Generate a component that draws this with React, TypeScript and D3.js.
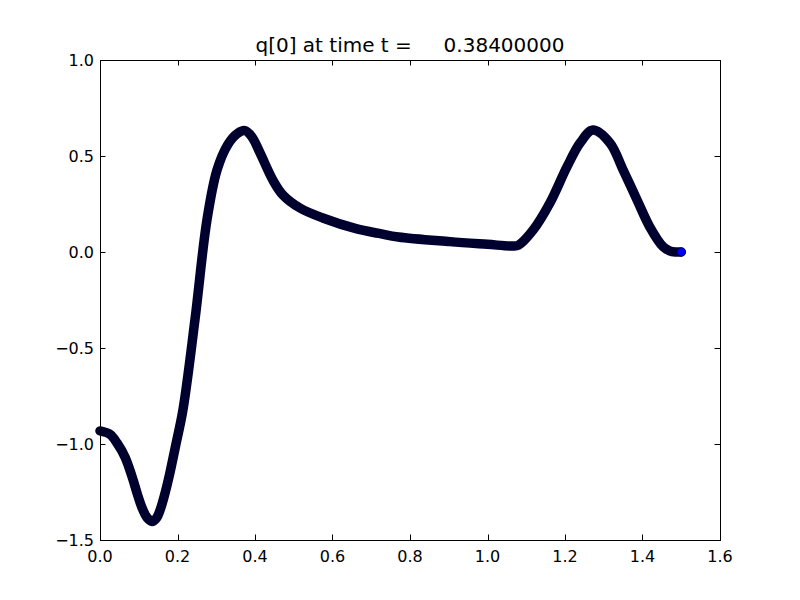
import React, { useEffect, useRef } from "react";
import * as d3 from "d3";

// values
const tValues = [
  0.0, 0.026, 0.044, 0.065, 0.083, 0.097, 0.108, 0.122, 0.134, 0.146, 0.155,
  0.166, 0.178, 0.195, 0.214, 0.245, 0.276, 0.302, 0.33, 0.355, 0.374, 0.392,
  0.413, 0.446, 0.472, 0.516, 0.575, 0.663, 0.72, 0.77, 0.903, 1.0, 1.066,
  1.08, 1.118, 1.161, 1.205, 1.239, 1.272, 1.316, 1.35, 1.386, 1.419, 1.453,
  1.47, 1.485, 1.5,
];
const qValues = [
  -0.932, -0.95, -0.995, -1.07, -1.172, -1.265, -1.33, -1.385, -1.403, -1.385,
  -1.344, -1.27, -1.172, -1.01, -0.823, -0.354, 0.167, 0.427, 0.56, 0.618,
  0.632, 0.6, 0.516, 0.375, 0.297, 0.229, 0.177, 0.12, 0.097, 0.078, 0.054,
  0.04, 0.031, 0.036, 0.115, 0.255, 0.443, 0.568, 0.635, 0.568, 0.427, 0.271,
  0.13, 0.028, 0.006, 0.0, 0.0,
];
const xTicks = [0, 0.2, 0.4, 0.6, 0.8, 1.0, 1.2, 1.4, 1.6];
const yTicks = [-1.5, -1.0, -0.5, 0.0, 0.5, 1.0];
const titleText = "q[0] at time t =     0.38400000";

const App = () => {
  const ref = useRef<SVGSVGElement>(null);

  useEffect(() => {
    const margin = { top: 60, right: 80, bottom: 60, left: 100 },
      width = 800 - margin.left - margin.right,
      height = 600 - margin.top - margin.bottom;

    const root = d3.select(ref.current);
    root.selectAll("*").remove();

    const svg = root
      .append("g")
      .attr("transform", `translate(${margin.left},${margin.top})`);

    const x = d3.scaleLinear().domain([0, 1.6]).range([0, width]);
    const y = d3.scaleLinear().domain([-1.5, 1.0]).range([height, 0]);

    const fmt = (v: number) => d3.format(".1f")(v).replace("-", "\u2212");
    const tickLen = 5.5;
    const font = "DejaVu Sans";

    // ticks inside, on all four sides
    const tickG = svg.append("g").attr("stroke", "#000").attr("stroke-width", 1);
    xTicks.forEach((t) => {
      const px = Math.round(x(t)) + 0.5;
      tickG.append("line").attr("x1", px).attr("x2", px).attr("y1", height).attr("y2", height - tickLen);
      tickG.append("line").attr("x1", px).attr("x2", px).attr("y1", 0).attr("y2", tickLen);
    });
    yTicks.forEach((t) => {
      const py = Math.round(y(t)) + 0.5;
      tickG.append("line").attr("x1", 0).attr("x2", tickLen).attr("y1", py).attr("y2", py);
      tickG.append("line").attr("x1", width).attr("x2", width - tickLen).attr("y1", py).attr("y2", py);
    });

    // tick labels
    svg
      .append("g")
      .selectAll("text")
      .data(xTicks)
      .join("text")
      .attr("x", (d) => x(d))
      .attr("y", height + 22)
      .attr("text-anchor", "middle")
      .attr("font-family", font)
      .attr("font-size", 16)
      .text((d) => fmt(d));

    svg
      .append("g")
      .selectAll("text")
      .data(yTicks)
      .join("text")
      .attr("x", -6)
      .attr("y", (d) => y(d))
      .attr("dy", "0.36em")
      .attr("text-anchor", "end")
      .attr("font-family", font)
      .attr("font-size", 16)
      .text((d) => fmt(d));

    // the curve: dense markers look like a thick dark line
    const pts = tValues.map((t, i) => [t, qValues[i]] as [number, number]);
    const line = d3
      .line<[number, number]>()
      .x((d) => x(d[0]))
      .y((d) => y(d[1]))
      .curve(d3.curveCatmullRom.alpha(0.5));

    svg
      .append("path")
      .datum(pts)
      .attr("d", line)
      .attr("fill", "none")
      .attr("stroke", "#00002e")
      .attr("stroke-width", 9.5)
      .attr("stroke-linecap", "round")
      .attr("stroke-linejoin", "round");

    const last = pts[pts.length - 1];
    svg
      .append("circle")
      .attr("cx", x(last[0]))
      .attr("cy", y(last[1]))
      .attr("r", 4.2)
      .attr("fill", "#0000ff")
      .attr("stroke", "#000")
      .attr("stroke-width", 0.6);

    // frame
    svg
      .append("rect")
      .attr("x", 0.5)
      .attr("y", 0.5)
      .attr("width", width)
      .attr("height", height)
      .attr("fill", "none")
      .attr("stroke", "#000")
      .attr("stroke-width", 1);

    // title
    svg
      .append("text")
      .attr("x", width / 2)
      .attr("y", -8)
      .attr("text-anchor", "middle")
      .attr("font-family", font)
      .attr("font-size", 20)
      .style("white-space", "pre")
      .text(titleText);
  }, []);

  return (
    <svg
      ref={ref}
      width={800}
      height={600}
      style={{ position: "absolute", left: 0, top: 0, background: "#fff" }}
    />
  );
};

export default App;
